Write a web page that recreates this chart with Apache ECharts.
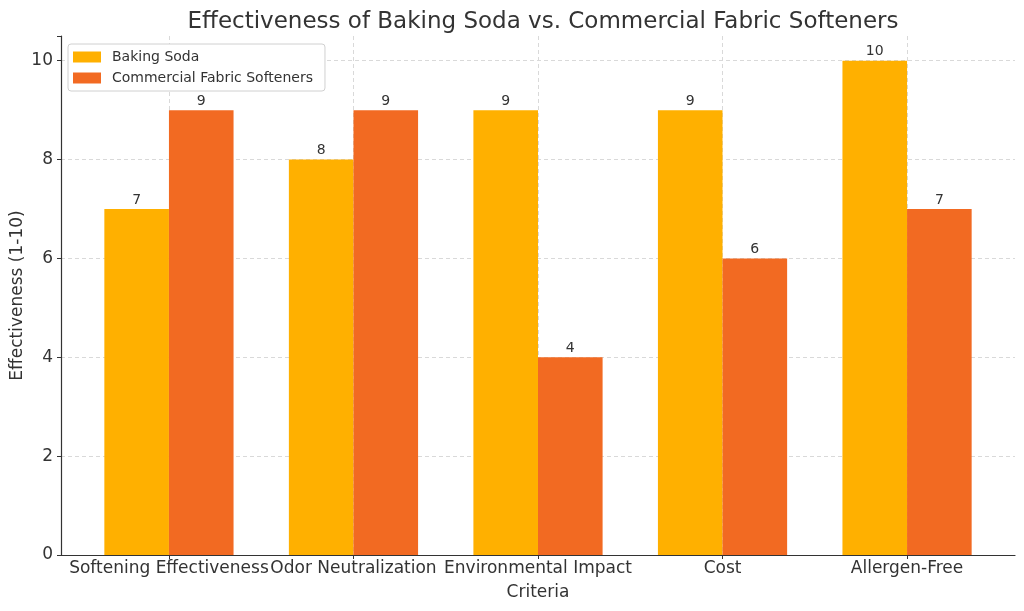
<!DOCTYPE html>
<html>
<head>
<meta charset="utf-8">
<script src="https://cdn.jsdelivr.net/npm/echarts@6/dist/echarts.min.js"></script>
<style>
  html, body { margin: 0; padding: 0; background: #fff; }
  #chart { width: 1024px; height: 611px; }
</style>
</head>
<body>
<div id="chart"></div>
<script>
var categories = ['Softening Effectiveness', 'Odor Neutralization', 'Environmental Impact', 'Cost', 'Allergen-Free'];
var bakingSoda = [7, 8, 9, 9, 10];
var commercialSofteners = [9, 9, 4, 6, 7];
var yTicks = [0, 2, 4, 6, 8, 10];

var FONT = 'DejaVu Sans';
var TEXT = '#333333';

// bars sit on a numeric x axis so the category spacing matches the original
function toPoints(values) {
    var out = [];
    for (var i = 0; i < values.length; i++) {
        out.push([i, values[i]]);
    }
    return out;
}

var chart = echarts.init(document.getElementById('chart'));

var option = {
    animation: false,
    textStyle: { fontFamily: FONT },
    title: {
        text: 'Effectiveness of Baking Soda vs. Commercial Fabric Softeners',
        left: 538,
        top: 6,
        textAlign: 'center',
        textStyle: { fontFamily: FONT, fontSize: 23, fontWeight: 'normal', color: TEXT }
    },
    legend: {
        orient: 'vertical',
        left: 68,
        top: 44,
        padding: [6, 12, 6, 5],
        itemGap: 7,
        itemWidth: 28,
        itemHeight: 11,
        icon: 'rect',
        borderColor: '#d0d0d0',
        borderWidth: 1,
        borderRadius: 3,
        backgroundColor: '#ffffff',
        textStyle: { fontFamily: FONT, fontSize: 14, color: TEXT, padding: [0, 0, 0, 6] },
        data: ['Baking Soda', 'Commercial Fabric Softeners']
    },
    grid: { left: 61, right: 9, top: 36, bottom: 56, outerBoundsMode: 'none', containLabel: false },
    xAxis: {
        type: 'value',
        min: -0.585,
        max: 4.585,
        minInterval: 1,
        maxInterval: 1,
        name: 'Criteria',
        nameLocation: 'middle',
        nameGap: 29,
        nameMoveOverlap: false,
        nameTextStyle: { fontFamily: FONT, fontSize: 17, color: TEXT },
        axisLine: { show: true, onZero: false, lineStyle: { color: '#333333', width: 1.2 } },
        axisTick: { show: true, length: 4, lineStyle: { color: '#333333' } },
        axisLabel: {
            fontFamily: FONT, fontSize: 17, color: TEXT, margin: 5,
            showMinLabel: false, showMaxLabel: false,
            formatter: function (v) {
                return Number.isInteger(v) && categories[v] !== undefined ? categories[v] : '';
            }
        },
        splitLine: { show: true, showMinLine: false, showMaxLine: false, lineStyle: { color: '#d9d9d9', type: [4, 3] } }
    },
    yAxis: {
        type: 'value',
        min: 0,
        max: 10.5,
        interval: 2,
        name: 'Effectiveness (1-10)',
        nameLocation: 'middle',
        nameGap: 35,
        nameMoveOverlap: false,
        nameTextStyle: { fontFamily: FONT, fontSize: 17, color: TEXT },
        axisLine: { show: true, onZero: false, lineStyle: { color: '#333333', width: 1.2 } },
        axisTick: { show: true, length: 4, lineStyle: { color: '#333333' } },
        axisLabel: {
            fontFamily: FONT, fontSize: 17, color: TEXT, margin: 8,
            formatter: function (v) {
                return yTicks.indexOf(v) >= 0 ? String(v) : '';
            }
        },
        splitLine: { show: true, showMinLine: false, showMaxLine: false, lineStyle: { color: '#d9d9d9', type: [4, 3] } }
    },
    series: [
        {
            name: 'Baking Soda',
            type: 'bar',
            barWidth: 64.6,
            barGap: '0%',
            itemStyle: { color: '#ffb000' },
            label: { show: true, position: 'top', distance: 2, fontFamily: FONT, fontSize: 14, color: TEXT },
            data: toPoints(bakingSoda)
        },
        {
            name: 'Commercial Fabric Softeners',
            type: 'bar',
            barWidth: 64.6,
            barGap: '0%',
            itemStyle: { color: '#f26a22' },
            label: { show: true, position: 'top', distance: 2, fontFamily: FONT, fontSize: 14, color: TEXT },
            data: toPoints(commercialSofteners)
        }
    ]
};

chart.setOption(option);
</script>
</body>
</html>
